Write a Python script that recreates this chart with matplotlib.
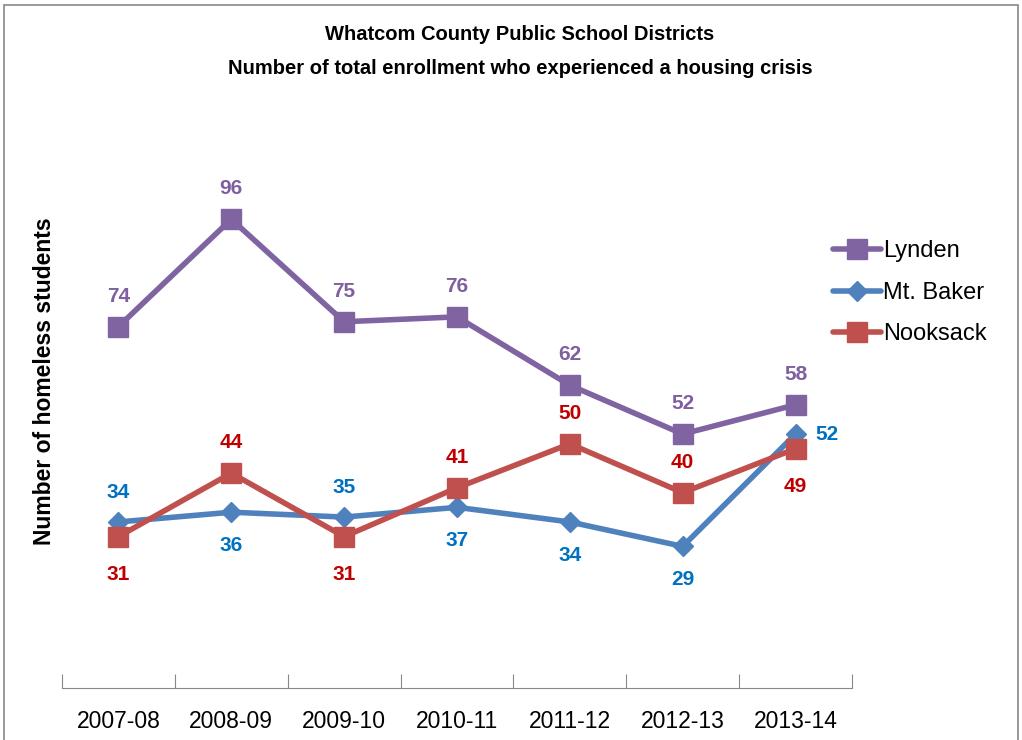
import matplotlib.pyplot as plt
from matplotlib.patches import Rectangle

plt.rcParams['font.family'] = ['Liberation Sans Narrow', 'Liberation Sans', 'DejaVu Sans']

years = ['2007-08', '2008-09', '2009-10', '2010-11', '2011-12', '2012-13', '2013-14']
lynden = [74, 96, 75, 76, 62, 52, 58]
mtbaker = [34, 36, 35, 37, 34, 29, 52]
nooksack = [31, 44, 31, 41, 50, 40, 49]

# label placement per point: 'a' above, 'b' below, 'r' right
lynden_pos = ['a'] * 7
mtbaker_pos = ['a', 'b', 'a', 'b', 'b', 'b', 'r']
nooksack_pos = ['b', 'a', 'b', 'a', 'a', 'a', 'b']

fig = plt.figure(figsize=(10.22, 7.4), dpi=100)
fig.patches.append(Rectangle((0.004, -0.01), 0.992, 1.003, transform=fig.transFigure,
                             fill=False, edgecolor='#888888', linewidth=1.2))
ax = fig.add_axes([62 / 1022, 1 - 688 / 740, 790 / 1022, 586 / 740])

x = list(range(len(years)))
series = [
    ('Lynden', lynden, lynden_pos, '#8064A2', '#7F5FA0', 's', 14, 22, 27),
    ('Mt. Baker', mtbaker, mtbaker_pos, '#4F81BD', '#0070C0', 'D', 10, 21, 24),
    ('Nooksack', nooksack, nooksack_pos, '#C0504D', '#C00000', 's', 14, 22, 27),
]
for name, vals, pos, col, lcol, mk, ms, up, down in series:
    ax.plot(x, vals, color=col, linewidth=4, marker=mk, markersize=ms,
            label=name, solid_capstyle='round')
    for xi, v, p in zip(x, vals, pos):
        if p == 'a':
            off = (0, up)
        elif p == 'b':
            off = (0, -down)
        else:
            off = (23, 0)
        ax.annotate(str(v), (xi, v), xytext=off, textcoords='offset points',
                    ha='center', va='center', color=lcol, fontsize=15, fontweight='bold')

ax.set_xlim(-0.5, 6.5)
ax.set_ylim(0, 120)
for s in ['top', 'right', 'left']:
    ax.spines[s].set_visible(False)
ax.spines['bottom'].set_color('#888888')
ax.set_yticks([])
ax.set_xticks([i - 0.5 for i in range(len(years) + 1)])
ax.set_xticklabels([])
ax.set_xticks(x, minor=True)
ax.set_xticklabels(years, minor=True, fontsize=16.5)
ax.tick_params(axis='x', which='major', direction='in', length=10, color='#888888')
ax.tick_params(axis='x', which='minor', length=0, pad=16)

fig.text(45 / 1022, 1 - 381 / 740, 'Number of homeless students', rotation=90,
         ha='center', va='center', fontsize=16.5, fontweight='bold')
fig.text(520 / 1022, 1 - 35 / 740, 'Whatcom County Public School Districts',
         ha='center', va='center', fontsize=14.5, fontweight='bold')
fig.text(520 / 1022, 1 - 68 / 740, 'Number of total enrollment who experienced a housing crisis',
         ha='center', va='center', fontsize=14.5, fontweight='bold')

leg = fig.legend(loc='upper left', bbox_to_anchor=(824 / 1022, 1 - 231 / 740), frameon=False,
                 fontsize=17, handlelength=2.0, handletextpad=0.1, labelspacing=0.82,
                 borderaxespad=0)

fig.savefig('out.png', dpi=100)
